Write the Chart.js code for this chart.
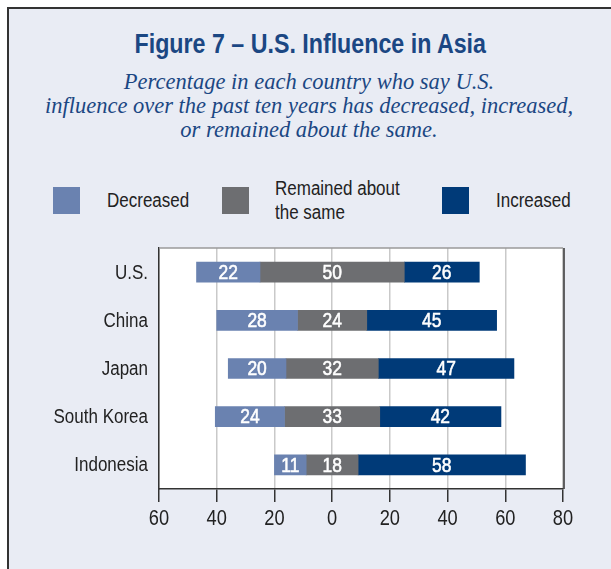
<!DOCTYPE html>
<html>
<head>
<meta charset="utf-8">
<script src="https://cdn.jsdelivr.net/npm/chart.js@4/dist/chart.umd.min.js"></script>
<style>
  html, body { margin:0; padding:0; background:#fff; }
  #page { position:relative; width:611px; height:569px; overflow:hidden; }
  #frame { position:absolute; left:7px; top:7px; width:604px; height:562px; background:#e9ecf4;
           border-top:2px solid #333; border-left:2px solid #333; box-sizing:border-box; }
  #title { position:absolute; left:7px; width:604px; top:28px; text-align:center;
           font-family:"Liberation Sans",sans-serif; font-weight:bold;
           font-size:27px; color:#1b4783; line-height:32px; transform:scaleX(0.86); transform-origin:311px 0; }
  #subtitle { position:absolute; left:7px; width:604px; top:70px; text-align:center;
           font-family:"Liberation Serif",serif; font-style:italic; font-size:22.5px;
           color:#1b4783; line-height:24px; }
  .sw { position:absolute; width:27px; height:27px; top:187px; }
  .lt { position:absolute; font-family:"Liberation Sans",sans-serif; white-space:nowrap;
        font-size:20px; color:#222; line-height:24px; transform:scaleX(0.85); transform-origin:0 0; }
  canvas { position:absolute; left:0; top:0; }
</style>
</head>
<body>
<div id="page">
  <div id="frame"></div>
  <div id="title">Figure 7 – U.S. Influence in Asia</div>
  <div id="subtitle">Percentage in each country who say U.S.<br>influence over the past ten years has decreased, increased,<br>or remained about the same.</div>
  <div class="sw" id="sw0" style="left:53px;"></div>
  <div class="lt" id="lt0" style="left:107px; top:188px;"></div>
  <div class="sw" id="sw1" style="left:222px;"></div>
  <div class="lt" id="lt1" style="left:275px; top:176px;"></div>
  <div class="sw" id="sw2" style="left:442px;"></div>
  <div class="lt" id="lt2" style="left:496px; top:188px;"></div>
  <canvas id="c" width="611" height="569"></canvas>
</div>
<script>
const categories = ["U.S.", "China", "Japan", "South Korea", "Indonesia"];
const decreased = [22, 28, 20, 24, 11];
const remained  = [50, 24, 32, 33, 18];
const increased = [26, 45, 47, 42, 58];
const seriesNames = ["Decreased", "Remained about\nthe same", "Increased"];
const colors = ["#6a82b0", "#6d6e71", "#003a78"];
const xTicks = [-60, -40, -20, 0, 20, 40, 60, 80];

// legend
seriesNames.forEach((n, i) => {
  document.getElementById("sw" + i).style.background = colors[i];
  document.getElementById("lt" + i).innerHTML = n.replace("\n", "<br>");
});

// floating segments: "remained" centered on zero
const decSeg = categories.map((_, i) => [-remained[i] / 2 - decreased[i], -remained[i] / 2]);
const remSeg = categories.map((_, i) => [-remained[i] / 2, remained[i] / 2]);
const incSeg = categories.map((_, i) => [remained[i] / 2, remained[i] / 2 + increased[i]]);
const rawVals = [decreased, remained, increased];

const FONT = "'Liberation Sans', sans-serif";

function narrowText(ctx, text, x, y, sx, align, stroke) {
  ctx.save();
  ctx.translate(x, y);
  ctx.scale(sx, 1);
  ctx.textAlign = align;
  ctx.textBaseline = "middle";
  ctx.fillText(text, 0, 0);
  if (stroke) {
    ctx.strokeStyle = ctx.fillStyle;
    ctx.lineWidth = stroke;
    ctx.strokeText(text, 0, 0);
  }
  ctx.restore();
}

const areaPlugin = {
  id: "area",
  beforeDraw(chart) {
    const { ctx, chartArea: a } = chart;
    ctx.save();
    ctx.fillStyle = "#ffffff";
    ctx.fillRect(a.left, a.top, a.right - a.left, a.bottom - a.top);
    ctx.restore();
  },
  afterDraw(chart) {
    const { ctx, chartArea: a, scales } = chart;
    ctx.save();
    ctx.lineWidth = 1.5;
    ctx.strokeStyle = "#9a9a9a";
    ctx.beginPath(); ctx.moveTo(a.left, a.top); ctx.lineTo(a.right, a.top); ctx.stroke();
    ctx.strokeStyle = "#333";
    ctx.beginPath(); ctx.moveTo(a.right + 1, a.top); ctx.lineTo(a.right + 1, a.bottom); ctx.stroke();
    // axis labels (condensed)
    ctx.fillStyle = "#222";
    ctx.font = "20px " + FONT;
    categories.forEach((c, i) => {
      narrowText(ctx, c, a.left - 11, scales.y.getPixelForValue(i) + 1, 0.85, "right");
    });
    ctx.font = "22px " + FONT;
    xTicks.forEach(v => {
      narrowText(ctx, String(Math.abs(v)), scales.x.getPixelForValue(v), a.bottom + 30, 0.83, "center");
    });
    ctx.restore();
  },
  afterDatasetsDraw(chart) {
    const { ctx } = chart;
    ctx.save();
    ctx.fillStyle = "#ffffff";
    ctx.font = "21px " + FONT;
    chart.data.datasets.forEach((ds, di) => {
      chart.getDatasetMeta(di).data.forEach((bar, i) => {
        const cx = (bar.x + bar.base) / 2;
        narrowText(ctx, String(rawVals[di][i]), cx, bar.y + 1, 0.83, "center", 0.6);
      });
    });
    ctx.restore();
  }
};

new Chart(document.getElementById("c"), {
  type: "bar",
  data: {
    labels: categories,
    datasets: [
      { label: "Decreased", data: decSeg, backgroundColor: colors[0] },
      { label: "Remained about the same", data: remSeg, backgroundColor: colors[1] },
      { label: "Increased", data: incSeg, backgroundColor: colors[2] }
    ]
  },
  options: {
    indexAxis: "y",
    responsive: false,
    animation: false,
    datasets: { bar: { grouped: false, barThickness: 20, borderWidth: 0, borderSkipped: false } },
    layout: { padding: { left: 0, right: 48, top: 248, bottom: 0 } },
    plugins: { legend: { display: false }, tooltip: { enabled: false } },
    scales: {
      x: {
        min: -60, max: 80,
        afterBuildTicks(scale) { scale.ticks = xTicks.map(v => ({ value: v })); },
        afterFit(scale) { scale.height = 80; },
        ticks: { display: false },
        grid: { color: "#c9c9c9", lineWidth: 1.5, tickColor: "#333", tickLength: 13, tickWidth: 1.5 },
        border: { color: "#333", width: 1.5 }
      },
      y: {
        afterFit(scale) { scale.width = 159; },
        ticks: { display: false },
        grid: { display: false, drawTicks: false },
        border: { color: "#333", width: 1.5 }
      }
    }
  },
  plugins: [areaPlugin]
});
</script>
</body>
</html>
